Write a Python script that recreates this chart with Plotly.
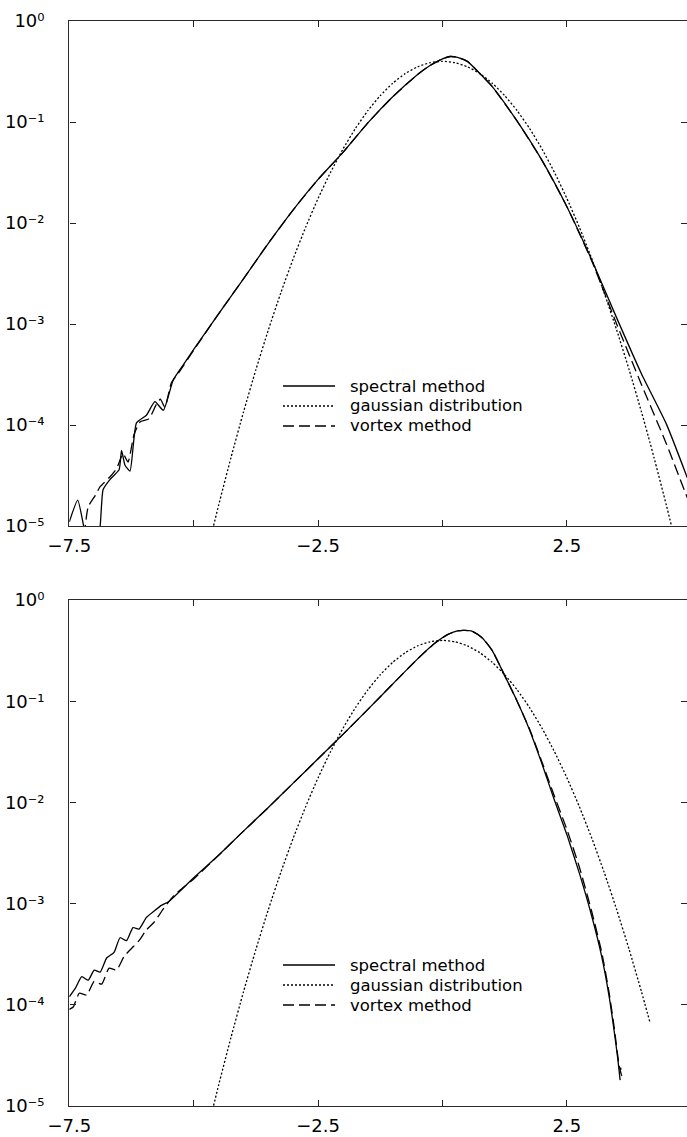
import plotly.graph_objects as go

# ---------------- data ----------------
# upper panel: spectral method
top_spec_x = [-7.5, -7.33, -7.17, -7.0, -6.88, -6.82, -6.68, -6.5, -6.45, -6.38, -6.28, -6.15,
              -5.95, -5.78, -5.61, -5.41, -5.2, -5.0, -4.5, -4.0, -3.5, -3.0, -2.5, -2.0, -1.5,
              -1.0, -0.5, -0.25, 0.0, 0.15, 0.3, 0.5, 0.75, 1.0, 1.5, 2.0, 2.5, 3.0, 3.5, 4.0, 4.5, 4.92]
top_spec_y = [1.1e-5, 1.8e-5, 8e-6, 5e-6, 1.0e-5, 2.3e-5, 2.9e-5, 3.6e-5, 5.6e-5, 4.0e-5, 3.5e-5, 1.05e-4,
              1.25e-4, 1.7e-4, 1.4e-4, 2.8e-4, 4.0e-4, 5.6e-4, 1.26e-3, 2.8e-3, 6.3e-3, 1.35e-2, 2.7e-2, 5.0e-2, 9.8e-2,
              0.178, 0.295, 0.363, 0.422, 0.445, 0.437, 0.398, 0.302, 0.224, 0.102, 0.0417, 0.0145, 4.3e-3, 1.15e-3, 3.2e-4, 1.02e-4, 3.0e-5]

# upper panel: vortex method
top_vort_x = [-7.2, -7.12, -6.98, -6.88, -6.7, -6.55, -6.42, -6.32, -6.2, -6.08, -5.9, -5.75, -5.67,
              -5.58, -5.45, -5.3, -5.0, -4.5, -4.0, -3.5, -3.0, -2.5, -2.0, -1.5, -1.0, -0.5, -0.25,
              0.0, 0.15, 0.3, 0.5, 0.75, 1.0, 1.5, 2.0, 2.5, 3.0, 3.5, 4.0, 4.5, 4.92]
top_vort_y = [8e-6, 1.55e-5, 2.0e-5, 2.45e-5, 3.0e-5, 3.7e-5, 5.2e-5, 4.3e-5, 8e-5, 1.07e-4, 1.15e-4, 1.6e-4, 1.8e-4,
              1.5e-4, 2.6e-4, 3.3e-4, 5.5e-4, 1.26e-3, 2.8e-3, 6.3e-3, 1.35e-2, 2.7e-2, 5.0e-2, 9.8e-2, 0.178, 0.295, 0.363,
              0.422, 0.445, 0.437, 0.398, 0.302, 0.224, 0.102, 0.0417, 0.0145, 4.2e-3, 1.0e-3, 2.5e-4, 6.5e-5, 1.9e-5]

# gaussian reference curve (both panels)
gauss_x = [-4.6, -4.5, -4.25, -4.0, -3.75, -3.5, -3.25, -3.0, -2.75, -2.5, -2.25, -2.0, -1.75,
           -1.5, -1.25, -1.0, -0.75, -0.5, -0.25, 0.0, 0.25, 0.5, 0.75, 1.0, 1.25, 1.5, 1.75,
           2.0, 2.25, 2.5, 2.75, 3.0, 3.25, 3.5, 3.75, 4.0, 4.17, 4.25, 4.5, 4.6]
gauss_y = [1.01e-5, 1.60e-5, 4.77e-5, 1.34e-4, 3.53e-4, 8.73e-4, 2.03e-3, 4.43e-3, 9.08e-3, 1.75e-2, 3.17e-2, 5.40e-2, 8.63e-2,
           0.1295, 0.1826, 0.2420, 0.3011, 0.3521, 0.3867, 0.3989, 0.3867, 0.3521, 0.3011, 0.2420, 0.1826, 0.1295, 8.63e-2,
           5.40e-2, 3.17e-2, 1.75e-2, 9.08e-3, 4.43e-3, 2.03e-3, 8.73e-4, 3.53e-4, 1.34e-4, 6.7e-5, 4.77e-5, 1.60e-5, 1.01e-5]
gauss_bottom_end = 4.17

# lower panel: spectral method
bot_spec_x = [-7.5, -7.38, -7.25, -7.12, -7.0, -6.88, -6.75, -6.6, -6.48, -6.35, -6.22, -6.1, -5.95,
              -5.8, -5.65, -5.5, -5.0, -4.5, -4.0, -3.5, -3.0, -2.5, -2.0, -1.5, -1.0, -0.5, -0.15,
              0.1, 0.3, 0.45, 0.6, 0.8, 1.0, 1.26, 1.5, 1.75, 2.0, 2.25, 2.5, 2.75, 3.0, 3.2, 3.35,
              3.45, 3.52, 3.57]
bot_spec_y = [1.2e-4, 1.45e-4, 1.9e-4, 1.75e-4, 2.2e-4, 2.1e-4, 2.9e-4, 3.3e-4, 4.6e-4, 4.3e-4, 5.8e-4, 5.6e-4, 7.3e-4,
              8.4e-4, 9.6e-4, 1.05e-3, 1.8e-3, 3.0e-3, 5.2e-3, 8.9e-3, 1.55e-2, 2.7e-2, 4.7e-2, 0.083, 0.148, 0.262, 0.375,
              0.455, 0.495, 0.50, 0.49, 0.422, 0.316, 0.175, 0.10, 0.052, 0.024, 0.0105, 4.8e-3, 2.0e-3, 7.5e-4, 3.0e-4, 1.2e-4,
              5.5e-5, 3.0e-5, 1.8e-5]

# lower panel: vortex method
bot_vort_x = [-7.5, -7.42, -7.3, -7.15, -7.0, -6.85, -6.7, -6.55, -6.4, -6.25, -6.1, -5.95, -5.8,
              -5.6, -5.4, -5.0, -4.5, -4.0, -3.5, -3.0, -2.5, -2.0, -1.5, -1.0, -0.5, -0.15, 0.1,
              0.3, 0.45, 0.6, 0.8, 1.0, 1.26, 1.5, 1.75, 2.0, 2.25, 2.5, 2.75, 3.0, 3.2, 3.35, 3.45,
              3.55, 3.6, 3.58]
bot_vort_y = [9e-5, 9.5e-5, 1.3e-4, 1.25e-4, 1.7e-4, 1.6e-4, 2.3e-4, 2.2e-4, 3.0e-4, 3.6e-4, 4.3e-4, 5.5e-4, 6.5e-4,
              9.0e-4, 1.2e-3, 1.75e-3, 3.0e-3, 5.2e-3, 8.9e-3, 1.55e-2, 2.7e-2, 4.7e-2, 0.083, 0.148, 0.262, 0.375, 0.455,
              0.495, 0.50, 0.49, 0.422, 0.316, 0.175, 0.10, 0.053, 0.025, 0.0115, 5.4e-3, 2.3e-3, 8.3e-4, 3.3e-4, 1.3e-4, 6e-5,
              2.5e-5, 2.0e-5, 2.4e-5]

legend_labels = ["spectral method", "gaussian distribution", "vortex method"]
y_tick_vals = [1, 1e-1, 1e-2, 1e-3, 1e-4, 1e-5]
y_tick_text = ["10\u2070", "10\u207b\u00b9", "10\u207b\u00b2", "10\u207b\u00b3", "10\u207b\u2074", "10\u207b\u2075"]

# ---------------- figure ----------------
W, H = 687, 1137
FONT = "DejaVu Sans, Liberation Sans, Arial, sans-serif"
LW = 1.3
styles = [dict(color="black", width=LW, dash="solid"),
          dict(color="black", width=LW, dash="2px,2px"),
          dict(color="black", width=LW, dash="11px,5px")]

fig = go.Figure()


def add_curve(x, y, style, xa, ya):
    fig.add_trace(go.Scatter(x=x, y=y, mode="lines", line=dict(shape="spline", smoothing=0.5, **style),
                             xaxis=xa, yaxis=ya, showlegend=False, hoverinfo="skip"))


# upper panel
add_curve(top_spec_x, top_spec_y, styles[0], "x", "y")
add_curve(gauss_x, gauss_y, styles[1], "x", "y")
add_curve(top_vort_x, top_vort_y, styles[2], "x", "y")

# lower panel (gaussian stops at its last computed point)
gx_b = [v for v in gauss_x if v <= gauss_bottom_end]
gy_b = gauss_y[:len(gx_b)]
add_curve(bot_spec_x, bot_spec_y, styles[0], "x2", "y2")
add_curve(gx_b, gy_b, styles[1], "x2", "y2")
add_curve(bot_vort_x, bot_vort_y, styles[2], "x2", "y2")

# panel placement in pixels
x_left, x_right = 69.3, 687.0
px_per_unit = 49.76
x_max = -7.5 + (x_right - x_left) / px_per_unit
panels = [(21, 526), (600, 1106)]   # top / bottom pixel rows of each plot box


def ydom(top_px, bot_px):
    return [1 - bot_px / H, 1 - top_px / H]


axis_common = dict(showline=True, linecolor="#2a2a2a", linewidth=1.4, mirror="ticks",
                   ticks="inside", ticklen=6, tickwidth=1.1, tickcolor="#222",
                   showgrid=False, zeroline=False, automargin=False,
                   tickfont=dict(family=FONT, size=18, color="black"))

layout = dict(width=W, height=H, margin=dict(l=0, r=0, t=0, b=0),
              paper_bgcolor="white", plot_bgcolor="white", showlegend=False)
for i, (tp, bp) in enumerate(panels):
    sfx = "" if i == 0 else str(i + 1)
    layout["xaxis" + sfx] = dict(domain=[x_left / W, x_right / W], range=[-7.5, x_max],
                                 tick0=-7.5, dtick=5, tickformat=".1f",
                                 minor=dict(tick0=-7.5, dtick=2.5, ticks="inside", ticklen=6,
                                            tickwidth=1.1, tickcolor="#222", showgrid=False),
                                 anchor="y" + sfx, ticklabelstandoff=3, **axis_common)
    layout["yaxis" + sfx] = dict(domain=ydom(tp, bp), type="log", range=[-5, 0],
                                 tickvals=y_tick_vals, ticktext=y_tick_text,
                                 anchor="x" + sfx, ticklabelstandoff=20, **axis_common)
fig.update_layout(**layout)

# legend keys and labels, one block per panel
leg_x0, leg_x1, leg_text_x = 283, 335, 348
row_offsets = [365, 385, 405]   # pixel offset of each row below the panel top
for tp, bp in panels:
    for k, lab in enumerate(legend_labels):
        ypx = tp + row_offsets[k]
        yp = 1 - ypx / H
        st = styles[k]
        fig.add_shape(type="line", xref="paper", yref="paper",
                      x0=leg_x0 / W, x1=leg_x1 / W, y0=yp, y1=yp,
                      line=dict(color=st["color"], width=st["width"], dash=st["dash"]))
        fig.add_annotation(xref="paper", yref="paper", x=leg_text_x / W, y=yp,
                           text=lab, showarrow=False, xanchor="left", yanchor="middle",
                           font=dict(family=FONT, size=16.5, color="black"))

fig.write_html("out.html")
